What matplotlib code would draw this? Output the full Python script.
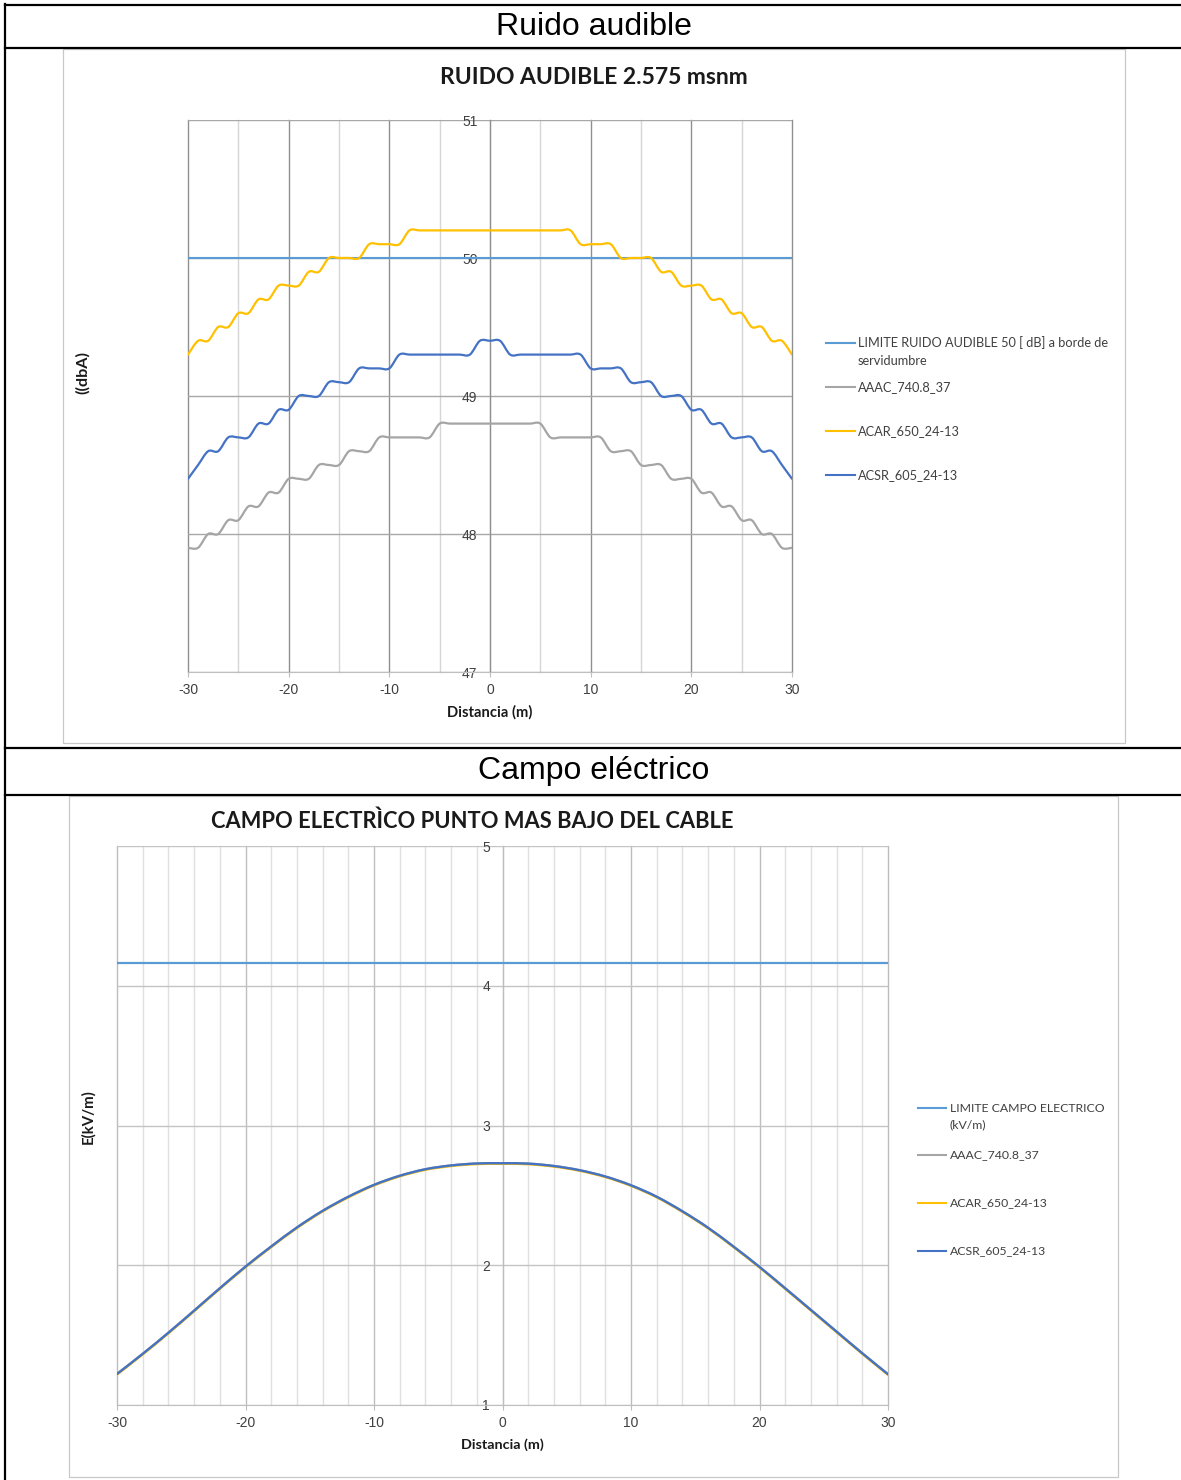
import numpy as np
import matplotlib
matplotlib.use("Agg")
import matplotlib.pyplot as plt
from matplotlib.path import Path
from matplotlib.patches import PathPatch, Rectangle
from matplotlib.lines import Line2D

plt.rcParams["axes.unicode_minus"] = False

# ---------------- data ----------------
x_ruido = list(range(-30, 31))
limite_ruido = 50.0
aaac_ruido = [47.9, 47.9, 48.0, 48.0, 48.1, 48.1, 48.2, 48.2, 48.3, 48.3,
              48.4, 48.4, 48.4, 48.5, 48.5, 48.5, 48.6, 48.6, 48.6, 48.7,
              48.7, 48.7, 48.7, 48.7, 48.7, 48.8, 48.8, 48.8, 48.8, 48.8,
              48.8,
              48.8, 48.8, 48.8, 48.8, 48.8, 48.7, 48.7, 48.7, 48.7, 48.7,
              48.7, 48.6, 48.6, 48.6, 48.5, 48.5, 48.5, 48.4, 48.4, 48.4,
              48.3, 48.3, 48.2, 48.2, 48.1, 48.1, 48.0, 48.0, 47.9, 47.9]
acar_ruido = [49.3, 49.4, 49.4, 49.5, 49.5, 49.6, 49.6, 49.7, 49.7, 49.8,
              49.8, 49.8, 49.9, 49.9, 50.0, 50.0, 50.0, 50.0, 50.1, 50.1,
              50.1, 50.1, 50.2, 50.2, 50.2, 50.2, 50.2, 50.2, 50.2, 50.2,
              50.2,
              50.2, 50.2, 50.2, 50.2, 50.2, 50.2, 50.2, 50.2, 50.1, 50.1,
              50.1, 50.1, 50.0, 50.0, 50.0, 50.0, 49.9, 49.9, 49.8, 49.8,
              49.8, 49.7, 49.7, 49.6, 49.6, 49.5, 49.5, 49.4, 49.4, 49.3]
acsr_ruido = [48.4, 48.5, 48.6, 48.6, 48.7, 48.7, 48.7, 48.8, 48.8, 48.9,
              48.9, 49.0, 49.0, 49.0, 49.1, 49.1, 49.1, 49.2, 49.2, 49.2,
              49.2, 49.3, 49.3, 49.3, 49.3, 49.3, 49.3, 49.3, 49.3, 49.4,
              49.4,
              49.4, 49.3, 49.3, 49.3, 49.3, 49.3, 49.3, 49.3, 49.3, 49.2,
              49.2, 49.2, 49.2, 49.1, 49.1, 49.1, 49.0, 49.0, 49.0, 48.9,
              48.9, 48.8, 48.8, 48.7, 48.7, 48.7, 48.6, 48.6, 48.5, 48.4]

x_campo = list(range(-30, 31, 2))
limite_campo = 4.16
aaac_campo = [1.222, 1.366, 1.517, 1.675, 1.835, 1.990, 2.134, 2.270, 2.389, 2.490,
              2.575, 2.640, 2.687, 2.714, 2.728, 2.730, 2.727, 2.710, 2.680, 2.635,
              2.572, 2.490, 2.386, 2.268, 2.132, 1.988, 1.835, 1.680, 1.525, 1.370, 1.220]
acar_campo = [1.218, 1.362, 1.513, 1.671, 1.831, 1.986, 2.130, 2.266, 2.385, 2.486,
              2.571, 2.636, 2.683, 2.710, 2.724, 2.726, 2.723, 2.706, 2.676, 2.631,
              2.568, 2.486, 2.382, 2.264, 2.128, 1.984, 1.831, 1.676, 1.521, 1.366, 1.216]
acsr_campo = [1.222, 1.366, 1.517, 1.675, 1.835, 1.990, 2.134, 2.270, 2.389, 2.490,
              2.575, 2.640, 2.687, 2.714, 2.728, 2.730, 2.727, 2.710, 2.680, 2.635,
              2.572, 2.490, 2.386, 2.268, 2.132, 1.988, 1.835, 1.680, 1.525, 1.370, 1.220]

names_ruido = ["LIMITE RUIDO AUDIBLE 50 [ dB] a borde de\nservidumbre",
               "AAAC_740.8_37", "ACAR_650_24-13", "ACSR_605_24-13"]
names_campo = ["LIMITE CAMPO ELECTRICO\n(kV/m)",
               "AAAC_740.8_37", "ACAR_650_24-13", "ACSR_605_24-13"]
colors = ["#5B9BD5", "#A5A5A5", "#FFC000", "#4472C4"]

x_ticks = [-30, -20, -10, 0, 10, 20, 30]
y_ticks_ruido = [47, 48, 49, 50, 51]
y_ticks_campo = [1, 2, 3, 4, 5]

# ---------------- layout helpers ----------------
W, H = 1181, 1480
fig = plt.figure(figsize=(W / 100, H / 100), dpi=100)
fig.patch.set_facecolor("white")


def fx(px):
    return px / W


def fy(py):
    return 1 - py / H


renderer = fig.canvas.get_renderer()


def fit(t, target, vertical=False):
    bb = t.get_window_extent(renderer=renderer)
    w = bb.height if vertical else bb.width
    t.set_fontsize(t.get_fontsize() * target / w)
    return t.get_fontsize()


TXT = "#404040"
CAL = ["Lato", "DejaVu Sans"]
ARI = ["Liberation Sans", "DejaVu Sans"]

# ---------------- table frame ----------------
for yy in [5, 48, 748, 795]:
    fig.add_artist(Line2D([fx(5), fx(1181)], [fy(yy), fy(yy)], color="black", lw=1.6))
fig.add_artist(Line2D([fx(5), fx(5)], [fy(4), fy(1480)], color="black", lw=1.6))

fig.text(fx(594), fy(27), "Ruido audible", ha="center", va="center",
         fontsize=23, family=ARI, color="black")
fig.text(fx(594), fy(771), "Campo eléctrico", ha="center", va="center",
         fontsize=23, family=ARI, color="black")

# chart boxes
fig.add_artist(Rectangle((fx(63), fy(743)), (1125 - 63) / W, (743 - 49) / H,
                         transform=fig.transFigure, fill=False, ec="#c8c8c8", lw=0.9))
fig.add_artist(Rectangle((fx(69), fy(1477)), (1118 - 69) / W, (1477 - 796) / H,
                         transform=fig.transFigure, fill=False, ec="#c8c8c8", lw=0.9))


def smooth_path(xs, ys):
    pts = np.column_stack([np.asarray(xs, float), np.asarray(ys, float)])
    n = len(pts)
    verts = [pts[0]]
    codes = [Path.MOVETO]
    for i in range(n - 1):
        p0 = pts[i - 1] if i > 0 else pts[i]
        p1 = pts[i]
        p2 = pts[i + 1]
        p3 = pts[i + 2] if i + 2 < n else pts[i + 1]
        verts += [p1 + (p2 - p0) / 6.0, p2 - (p3 - p1) / 6.0, p2]
        codes += [Path.CURVE4] * 3
    return Path(verts, codes)


def style_axes(ax, xminor, ymajor, gmaj, gmin, ghor):
    ax.set_xlim(-30, 30)
    ax.set_xticks(x_ticks)
    ax.set_xticks(xminor, minor=True)
    ax.set_yticks(ymajor)
    ax.set_ylim(ymajor[0], ymajor[-1])
    ax.set_axisbelow(True)
    ax.grid(True, which="major", axis="x", color=gmaj, lw=1.0)
    ax.grid(True, which="minor", axis="x", color=gmin, lw=1.0)
    ax.grid(True, which="major", axis="y", color=ghor, lw=1.0)
    for t in ax.xaxis.get_major_ticks() + ax.xaxis.get_minor_ticks() + ax.yaxis.get_major_ticks():
        t.gridline.set_clip_on(False)
    for s in ["top", "right"]:
        ax.spines[s].set_visible(False)
    ax.spines["left"].set_position(("data", 0))
    ax.spines["left"].set_color(gmaj)
    ax.spines["bottom"].set_color("#bfbfbf")
    ax.tick_params(axis="y", length=0, pad=9, labelsize=10, labelcolor=TXT)
    ax.tick_params(axis="x", which="major", length=3.5, width=0.8, color="#bfbfbf",
                   pad=4.5, labelsize=10, labelcolor=TXT, direction="out")
    ax.tick_params(axis="x", which="minor", length=0)
    for lab in ax.get_xticklabels() + ax.get_yticklabels():
        lab.set_family(ARI)
    ax.set_facecolor("white")


# ---------------- chart 1 ----------------
ax1 = fig.add_axes([fx(188), fy(672), (792 - 188) / W, (672 - 120) / H])
style_axes(ax1, list(range(-30, 31, 5)), y_ticks_ruido, "#8f8f8f", "#d6d6d6", "#a8a8a8")
ax1.plot(x_ruido, [limite_ruido] * len(x_ruido), color=colors[0], lw=1.5, zorder=3)
for ys, c in zip([aaac_ruido, acar_ruido, acsr_ruido], colors[1:]):
    ax1.add_patch(PathPatch(smooth_path(x_ruido, ys), fc="none", ec=c, lw=1.6,
                            zorder=3, capstyle="round", joinstyle="round"))

t = fig.text(fx(594), fy(77), "RUIDO AUDIBLE 2.575 msnm", ha="center", va="center",
             fontsize=16, weight="bold", family=CAL, color="#1a1a1a")
fit(t, 309)
t = fig.text(fx(490), fy(712), "Distancia (m)", ha="center", va="center",
             fontsize=10, weight="bold", family=CAL, color="#1a1a1a")
fit(t, 85)
t = fig.text(fx(83), fy(372), "((dbA)", ha="center", va="center", rotation=90,
             fontsize=10, weight="bold", family=CAL, color="#1a1a1a")
fit(t, 43, vertical=True)

# legend 1
tmp = fig.text(0, 0, names_ruido[0].split("\n")[0], fontsize=10, family=CAL)
fs1 = fit(tmp, 252)
tmp.remove()
for yy, name, c in zip([343, 387, 431, 475], names_ruido, colors):
    fig.add_artist(Line2D([fx(826), fx(855)], [fy(yy), fy(yy)], color=c, lw=1.5))
    for k, ln in enumerate(name.split("\n")):
        fig.text(fx(858), fy(yy + 18 * k), ln, ha="left", va="center",
                 fontsize=fs1, family=CAL, color=TXT)

# ---------------- chart 2 ----------------
ax2 = fig.add_axes([fx(117), fy(1405), (888 - 117) / W, (1405 - 846) / H])
style_axes(ax2, list(range(-30, 31, 2)), y_ticks_campo, "#bdbdbd", "#e0e0e0", "#c4c4c4")
ax2.plot(x_campo, [limite_campo] * len(x_campo), color=colors[0], lw=1.6, zorder=3)
for ys, c in zip([aaac_campo, acar_campo, acsr_campo], colors[1:]):
    ax2.add_patch(PathPatch(smooth_path(x_campo, ys), fc="none", ec=c, lw=1.7,
                            zorder=3, capstyle="round", joinstyle="round"))

t = fig.text(fx(472), fy(821), "CAMPO ELECTRÌCO PUNTO MAS BAJO DEL CABLE", ha="center",
             va="center", fontsize=16, weight="bold", family=CAL, color="#1a1a1a")
fit(t, 522)
t = fig.text(fx(502), fy(1445), "Distancia (m)", ha="center", va="center",
             fontsize=10, weight="bold", family=CAL, color="#1a1a1a")
fit(t, 83)
t = fig.text(fx(88), fy(1117), "E(kV/m)", ha="center", va="center", rotation=90,
             fontsize=10, weight="bold", family=CAL, color="#1a1a1a")
fit(t, 55, vertical=True)

tmp = fig.text(0, 0, names_campo[0].split("\n")[0], fontsize=10, family=CAL)
fs2 = fit(tmp, 153)
tmp.remove()
for yy, name, c in zip([1108, 1155, 1203, 1251], names_campo, colors):
    fig.add_artist(Line2D([fx(918), fx(946)], [fy(yy), fy(yy)], color=c, lw=1.5))
    for k, ln in enumerate(name.split("\n")):
        fig.text(fx(950), fy(yy + 17 * k), ln, ha="left", va="center",
                 fontsize=fs2, family=CAL, color=TXT)

fig.savefig("out.png", dpi=100)
